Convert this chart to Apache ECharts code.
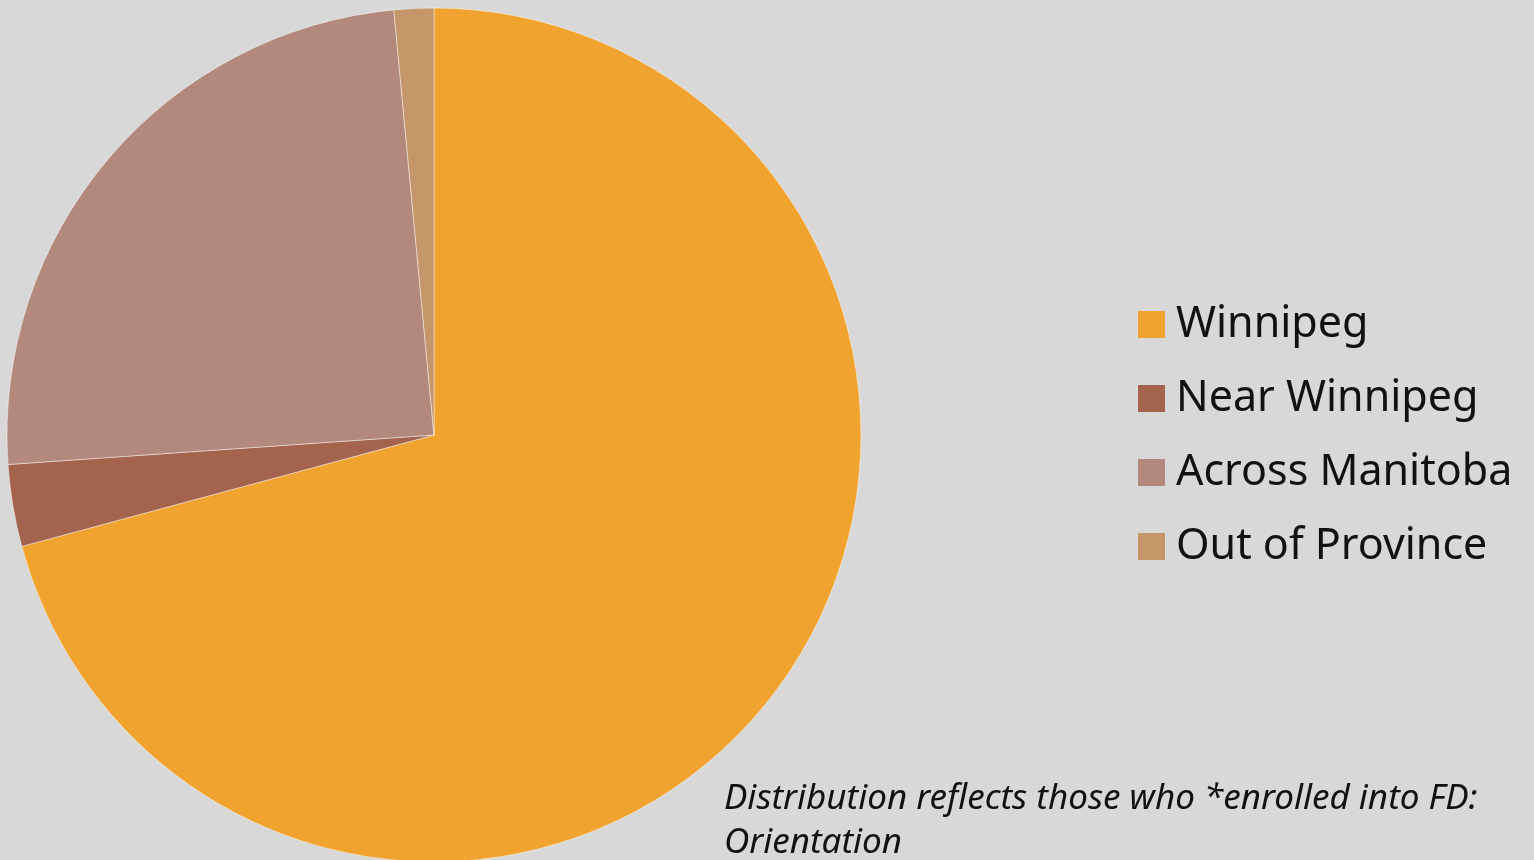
<!DOCTYPE html>
<html>
<head>
<meta charset="utf-8">
<script src="https://cdn.jsdelivr.net/npm/echarts@6/dist/echarts.min.js"></script>
<style>
html,body{margin:0;padding:0;background:#d8d8d8;}
#c{width:1534px;height:860px;}
</style>
</head>
<body>
<div id="c"></div>
<script>
const categories = ['Winnipeg', 'Near Winnipeg', 'Across Manitoba', 'Out of Province'];
const values = [70.8, 3.1, 24.6, 1.5];
const colors = ['#F0A32F', '#A3634C', '#B4897D', '#C4966A'];
const footnote = 'Distribution reflects those who *enrolled into FD:\nOrientation';

const chart = echarts.init(document.getElementById('c'));
chart.setOption({
  backgroundColor: '#d8d8d8',
  animation: false,
  title: {
    text: footnote,
    left: 719,
    top: 772,
    padding: 5,
    textStyle: {
      fontFamily: '"Noto Sans", sans-serif',
      fontStyle: 'italic',
      fontWeight: 'normal',
      fontSize: 35,
      lineHeight: 44,
      color: '#111'
    }
  },
  legend: {
    orient: 'vertical',
    left: 1138,
    top: 303,
    padding: 0,
    itemWidth: 27,
    itemHeight: 27,
    itemGap: 31,
    icon: 'rect',
    itemStyle: { borderWidth: 0 },
    textStyle: {
      fontFamily: '"Noto Sans", sans-serif',
      fontSize: 43,
      color: '#111',
      padding: [0, 0, 0, 6]
    },
    data: categories
  },
  series: [{
    type: 'pie',
    center: [434, 435],
    radius: 427,
    startAngle: 90,
    clockwise: true,
    label: { show: false },
    labelLine: { show: false },
    itemStyle: { borderColor: 'rgba(255,255,255,0.45)', borderWidth: 1 },
    emphasis: { disabled: true },
    data: categories.map((n, i) => ({ name: n, value: values[i], itemStyle: { color: colors[i] } }))
  }]
});
</script>
</body>
</html>
